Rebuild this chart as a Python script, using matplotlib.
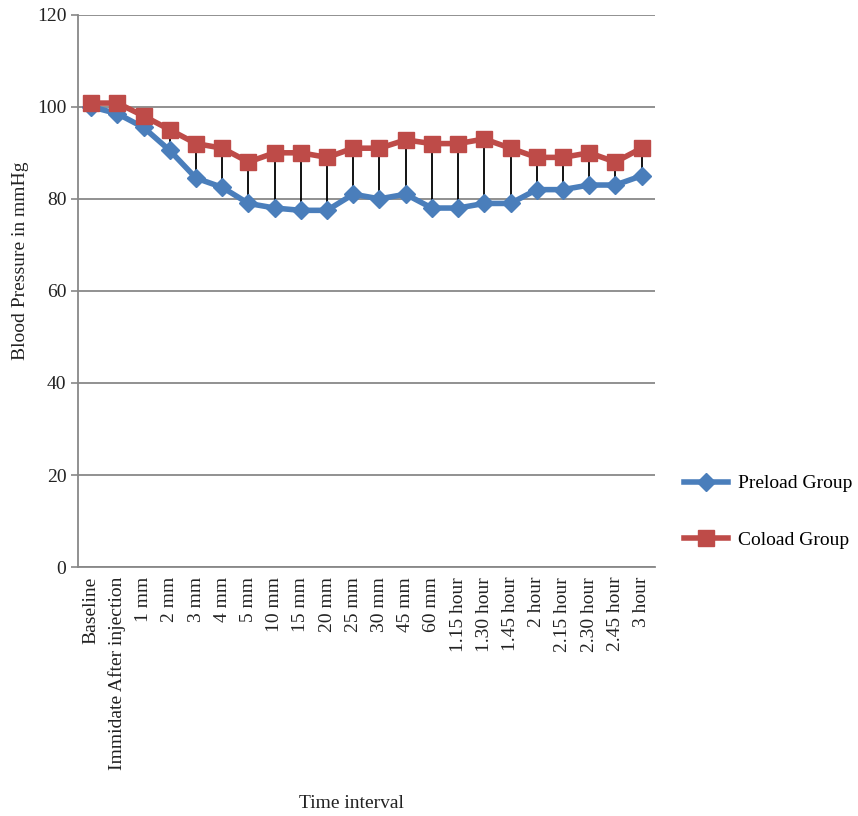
import matplotlib
matplotlib.use("Agg")
from matplotlib import pyplot as plt

# time points and mean blood pressure values
categories = ['Baseline', 'Immidate After injection', '1 mm', '2 mm', '3 mm', '4 mm', '5 mm',
              '10 mm', '15 mm', '20 mm', '25 mm', '30 mm', '45 mm', '60 mm',
              '1.15 hour', '1.30 hour', '1.45 hour', '2 hour', '2.15 hour', '2.30 hour',
              '2.45 hour', '3 hour']
preload = [100, 98.5, 95.5, 90.5, 84.5, 82.5, 79, 78, 77.5, 77.5, 81, 80,
           81, 78, 78, 79, 79, 82, 82, 83, 83, 85]
coload = [100.8, 100.8, 98, 95, 92, 91, 88, 90, 90, 89, 91, 91,
          92.8, 92, 92, 93, 91, 89, 89, 90, 88, 91]

plt.rcParams['font.family'] = ['Liberation Serif', 'DejaVu Serif']
fs = 14

fig = plt.figure(figsize=(8.58, 8.16), dpi=100)
ax = fig.add_axes([0.091, 0.305, 0.672, 0.677])

x = list(range(len(categories)))

# high-low lines between the two series
ax.vlines(x, preload, coload, color='black', linewidth=1.3, zorder=2)

ax.plot(x, preload, color='#4A7EBB', linewidth=4, marker='D', markersize=9,
        markerfacecolor='#4A7EBB', markeredgecolor='#4A7EBB', label='Preload Group', zorder=3)
ax.plot(x, coload, color='#BE4B48', linewidth=4, marker='s', markersize=11,
        markerfacecolor='#BE4B48', markeredgecolor='#BE4B48', label='Coload Group', zorder=4)

ax.set_xlim(-0.5, len(categories) - 0.5)
ax.set_ylim(0, 120)
ax.set_yticks(range(0, 121, 20))
ax.set_xticks(x)
ax.set_xticklabels(categories, rotation=90, fontsize=fs, color='#222222')
ax.tick_params(axis='y', labelsize=fs, labelcolor='#222222', color='#888888', length=5, width=1.2)
ax.tick_params(axis='x', length=0, pad=7)

ax.grid(axis='y', color='#888888', linewidth=1.3)
ax.set_axisbelow(True)
for side in ['top', 'right']:
    ax.spines[side].set_visible(False)
for side in ['left', 'bottom']:
    ax.spines[side].set_color('#888888')
    ax.spines[side].set_linewidth(1.3)

ax.set_ylabel('Blood Pressure in mmHg', fontsize=fs, color='#222222')
ax.yaxis.set_label_coords(-0.085, 0.555)
fig.text(0.41, 0.01, 'Time interval', fontsize=fs, color='#222222', ha='center')

ax.legend(loc='center left', bbox_to_anchor=(1.02, 0.1), frameon=False, fontsize=fs,
          handlelength=2.3, handletextpad=0.5, labelspacing=2.0)

fig.savefig('out.png', dpi=100)
